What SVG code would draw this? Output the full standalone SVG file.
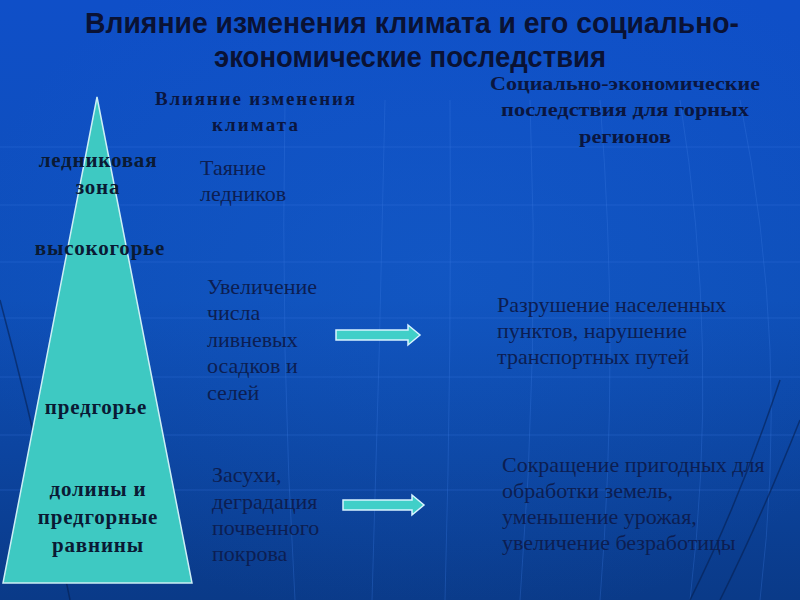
<svg xmlns="http://www.w3.org/2000/svg" width="800" height="600" viewBox="0 0 800 600">
<defs>
<linearGradient id="bg" x1="0" y1="0" x2="0" y2="1">
<stop offset="0" stop-color="#0f4fc8"/>
<stop offset="0.5" stop-color="#0e4fb8"/>
<stop offset="1" stop-color="#0a3a88"/>
</linearGradient>
<radialGradient id="glow" cx="0.55" cy="0.45" r="0.6">
<stop offset="0" stop-color="#1a66d8" stop-opacity="0.3"/>
<stop offset="1" stop-color="#1a66d8" stop-opacity="0"/>
</radialGradient>
<style>
.title{font-family:"Liberation Sans",Arial,sans-serif;font-weight:bold;font-size:30px;fill:#0a1234;text-anchor:middle}
.head{font-family:"Liberation Serif","Times New Roman",serif;font-weight:bold;font-size:19px;fill:#0a1640;text-anchor:middle}
.zone{font-family:"Liberation Serif","Times New Roman",serif;font-weight:bold;font-size:21px;fill:#0a1a34;text-anchor:middle;letter-spacing:0.8px}
.txt{font-family:"Liberation Serif","Times New Roman",serif;font-size:22px;fill:#0c1e52}
.grid{stroke:#3a7ae0;stroke-opacity:0.3;stroke-width:1;fill:none}
.dark{stroke:#072050;stroke-opacity:0.6;stroke-width:1.5;fill:none}
.arrow{fill:#40cfc8;stroke:#d8f4ff;stroke-width:1.5}
</style>
</defs>
<rect width="800" height="600" fill="url(#bg)"/>
<rect width="800" height="600" fill="url(#glow)"/>
<g id="background-grid">
<path class="grid" d="M0 147 H800 M0 205 H800 M0 262 H800 M0 318 H800 M0 377 H800 M0 435 H800 M0 490 H800"/>
<path class="grid" d="M285 100 Q280 350 295 600 M385 100 Q380 350 372 600 M450 100 Q452 350 445 600 M530 100 Q540 350 520 600 M600 100 Q620 350 600 600 M680 100 Q720 350 690 600 M740 100 Q790 350 760 600"/>
<path class="dark" d="M0 300 Q40 450 70 600 M800 420 Q760 520 720 600 M780 380 Q740 500 690 600"/>
</g>
<g id="title">
<text class="title" x="412" y="33" textLength="654" lengthAdjust="spacingAndGlyphs">Влияние изменения климата и его социально-</text>
<text class="title" x="410" y="67" textLength="392" lengthAdjust="spacingAndGlyphs">экономические последствия</text>
</g>
<g id="header-left">
<text class="head" x="255" y="105" textLength="200" lengthAdjust="spacing">Влияние изменения</text>
<text class="head" x="255" y="131" textLength="86" lengthAdjust="spacing">климата</text>
</g>
<g id="header-right">
<text class="head" x="625" y="90" textLength="270" lengthAdjust="spacingAndGlyphs">Социально-экономические</text>
<text class="head" x="625" y="116" textLength="248" lengthAdjust="spacingAndGlyphs">последствия для горных</text>
<text class="head" x="625" y="143" textLength="92" lengthAdjust="spacingAndGlyphs">регионов</text>
</g>
<g id="pyramid">
<polygon points="97,97 192,583 3,583" fill="#3ec9c2" stroke="#cdeff5" stroke-width="1.5"/>
</g>
<g id="zone-glacier">
<text class="zone" x="98" y="167">ледниковая</text>
<text class="zone" x="98" y="194">зона</text>
</g>
<g id="zone-highland">
<text class="zone" x="100" y="255">высокогорье</text>
</g>
<g id="zone-foothills">
<text class="zone" x="96" y="414">предгорье</text>
</g>
<g id="zone-valleys">
<text class="zone" x="98" y="496">долины и</text>
<text class="zone" x="98" y="524">предгорные</text>
<text class="zone" x="98" y="552">равнины</text>
</g>
<g id="effect-melting">
<text class="txt" x="200" y="175">Таяние</text>
<text class="txt" x="200" y="201">ледников</text>
</g>
<g id="effect-rain">
<text class="txt" x="207" y="294">Увеличение</text>
<text class="txt" x="207" y="320">числа</text>
<text class="txt" x="207" y="347">ливневых</text>
<text class="txt" x="207" y="373">осадков и</text>
<text class="txt" x="207" y="400">селей</text>
</g>
<g id="effect-drought">
<text class="txt" x="212" y="482">Засухи,</text>
<text class="txt" x="212" y="509">деградация</text>
<text class="txt" x="212" y="535">почвенного</text>
<text class="txt" x="212" y="561">покрова</text>
</g>
<g id="consequence-destruction">
<text class="txt" x="497" y="312">Разрушение населенных</text>
<text class="txt" x="497" y="338">пунктов, нарушение</text>
<text class="txt" x="497" y="364">транспортных путей</text>
</g>
<g id="consequence-land">
<text class="txt" x="502" y="472">Сокращение пригодных для</text>
<text class="txt" x="502" y="498">обработки земель,</text>
<text class="txt" x="502" y="524">уменьшение урожая,</text>
<text class="txt" x="502" y="550">увеличение безработицы</text>
</g>
<g id="connectors">
<polygon class="arrow" points="336,330 408,330 408,325 420,335 408,345 408,340 336,340"/>
<polygon class="arrow" points="343,500 412,500 412,495 424,505 412,515 412,510 343,510"/>
</g>
</svg>
